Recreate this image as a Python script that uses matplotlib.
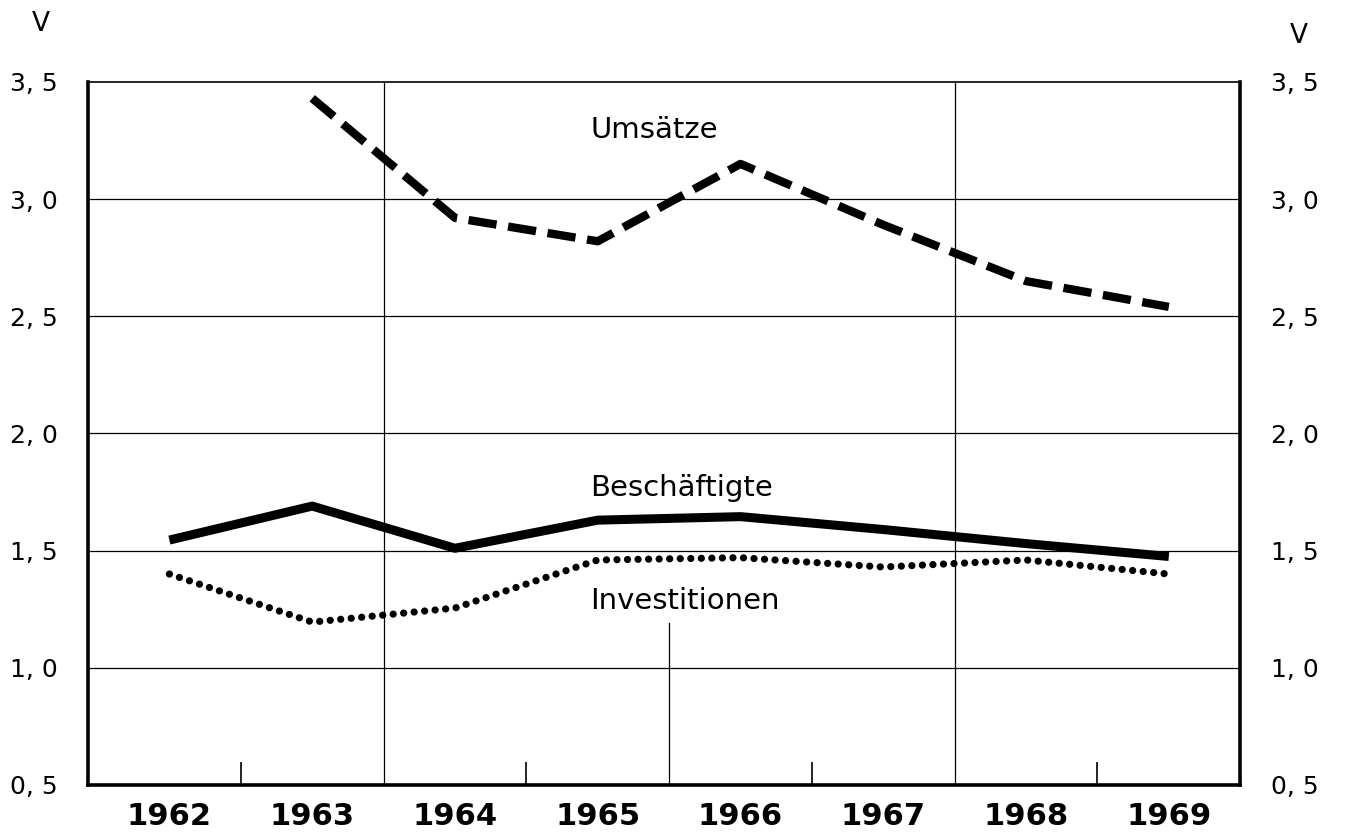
import matplotlib.pyplot as plt
from matplotlib.ticker import FixedLocator

# Werte
jahre = [1962, 1963, 1964, 1965, 1966, 1967, 1968, 1969]
umsatz_jahre = [1963, 1964, 1965, 1966, 1967, 1968, 1969]
umsaetze = [3.43, 2.92, 2.82, 3.15, 2.89, 2.65, 2.54]
beschaeftigte = [1.545, 1.69, 1.51, 1.63, 1.645, 1.59, 1.53, 1.475]
investitionen = [1.40, 1.195, 1.255, 1.46, 1.47, 1.43, 1.46, 1.40]

y_ticks = [0.5, 1.0, 1.5, 2.0, 2.5, 3.0, 3.5]
y_labels = ["0, 5", "1, 0", "1, 5", "2, 0", "2, 5", "3, 0", "3, 5"]

fig = plt.figure(figsize=(13.46, 8.4), dpi=100)
ax = fig.add_axes([0.0654, 0.0655, 0.856, 0.837])

ax.set_xlim(1961.43, 1969.5)
ax.set_ylim(0.5, 3.5)

# Gitter
for y in [1.0, 1.5, 2.0, 2.5, 3.0]:
    ax.axhline(y, color="black", lw=0.9, zorder=1)
ax.axvline(1963.5, color="black", lw=0.9, zorder=1)
ax.axvline(1967.5, color="black", lw=0.9, zorder=1)
ax.plot([1965.5, 1965.5], [0.5, 1.19], color="black", lw=0.9, zorder=1)

ax.plot(umsatz_jahre, umsaetze, color="black", lw=6, linestyle=(0, (3.4, 1.4)),
        dash_capstyle="butt", solid_joinstyle="miter", zorder=3)
ax.plot(jahre, beschaeftigte, color="black", lw=6.5, solid_capstyle="butt", zorder=3)
ax.plot(jahre, investitionen, color="black", lw=5.2, linestyle=(0, (0.01, 1.45)),
        dash_capstyle="round", zorder=3)

ax.text(1964.95, 3.295, "Umsätze", fontsize=21, va="center", ha="left")
ax.text(1964.95, 1.767, "Beschäftigte", fontsize=21, va="center", ha="left")
ax.text(1964.95, 1.287, "Investitionen", fontsize=21, va="center", ha="left")

# Achsen
ax.set_xticks(jahre)
ax.set_xticklabels([str(j) for j in jahre], fontsize=22, fontweight="bold")
ax.xaxis.set_minor_locator(FixedLocator([1962.5, 1964.5, 1966.5, 1968.5]))
ax.tick_params(axis="x", which="major", length=0, pad=12)
ax.tick_params(axis="x", which="minor", direction="in", length=16.5, width=1.2)

ax.set_yticks(y_ticks)
ax.set_yticklabels(y_labels, fontsize=18)
ax.tick_params(axis="y", length=0, pad=22, labelright=True, right=False)

for side in ["left", "bottom", "right"]:
    ax.spines[side].set_linewidth(2.6)
ax.spines["top"].set_linewidth(1.2)

fig.text(0.030, 0.972, "V", fontsize=19, ha="center", va="center")
fig.text(0.965, 0.957, "V", fontsize=19, ha="center", va="center")

fig.savefig("out.png", dpi=100)
